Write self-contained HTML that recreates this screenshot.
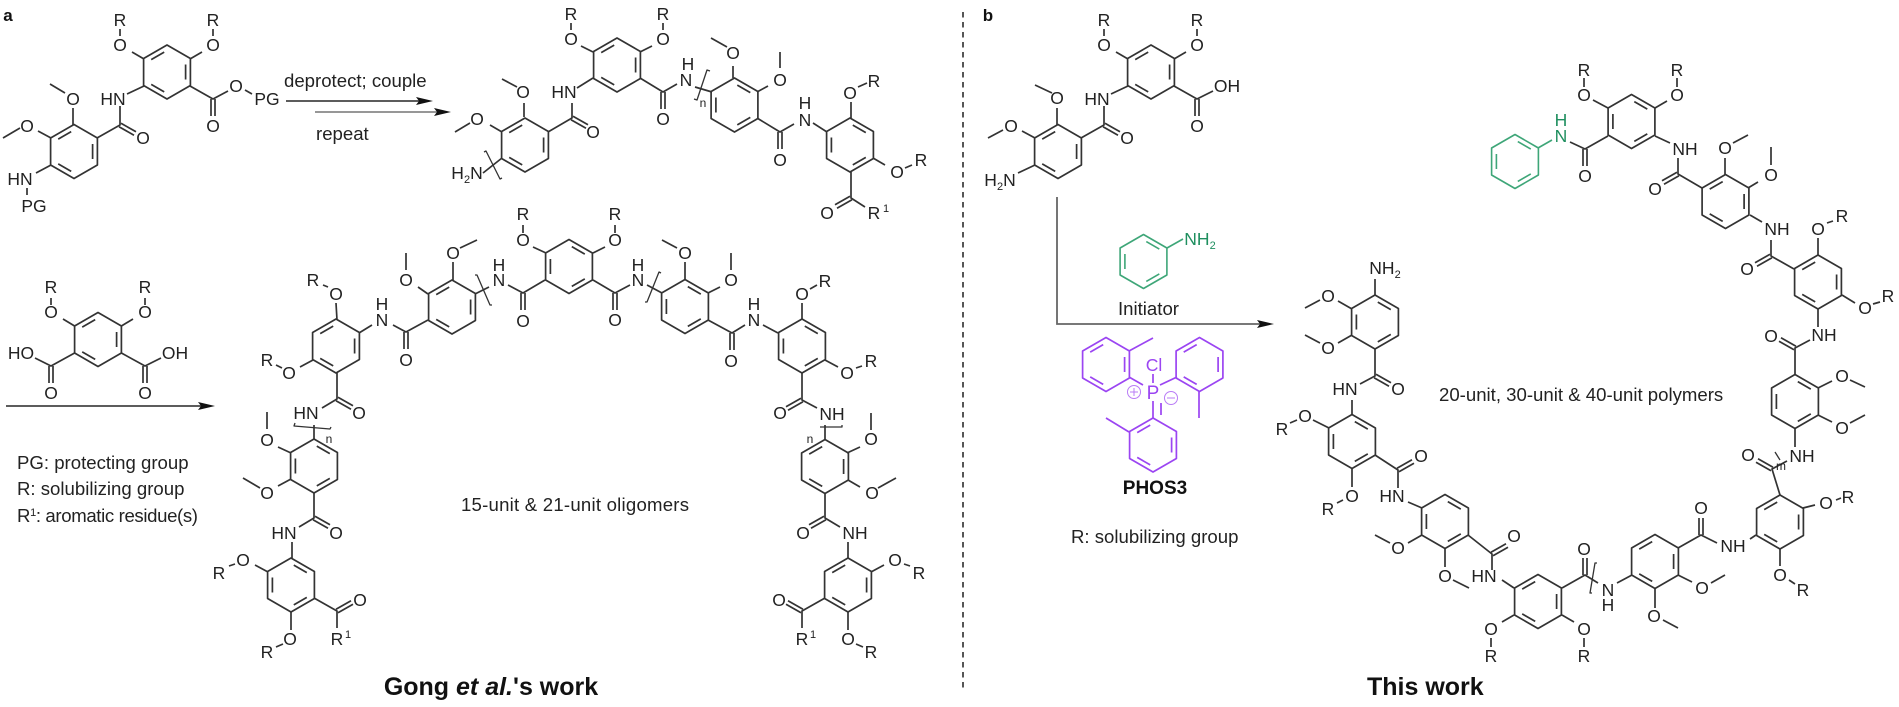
<!DOCTYPE html>
<html><head><meta charset="utf-8"><style>
html,body{margin:0;padding:0;background:#fff}
svg{display:block;filter:blur(.3px)}
text{font-family:"Liberation Sans",sans-serif;font-size:17.5px;text-anchor:middle;fill:#222}
.l{text-anchor:start;font-size:18.6px}
.s{font-size:11px}
.n{font-size:12px}
.b{font-weight:bold}
</style></head><body>
<svg xmlns="http://www.w3.org/2000/svg" width="1899" height="707" viewBox="0 0 1899 707">
<defs>
<g id="ra"><path d="M0-27L23.4-13.5V13.5L0 27L-23.4 13.5V-13.5Z"/><path d="M2.8-19.9L15.8-12.4M15.8 12.4L2.8 19.9M-18.6 7.5V-7.5"/></g>
<g id="rb"><path d="M0-27L23.4-13.5V13.5L0 27L-23.4 13.5V-13.5Z"/><path d="M18.6-7.5V7.5M-2.8 19.9L-15.8 12.4M-15.8-12.4L-2.8-19.9"/></g>
<path id="dd" d="M-2 0v17M2 0v17"/>
<path id="du" d="M-2 0v-17M2 0v-17"/>
<path id="dr" d="M-1 1.7l15 8.5M1-1.7l15 8.5"/>
<path id="dl" d="M1 1.7l-15 8.5M-1-1.7l-15 8.5"/>
<path id="ur" d="M-1-1.7l15-8.5M1 1.7l15-8.5"/>
<path id="ul" d="M1-1.7l-15-8.5M-1 1.7l-15-8.5"/>
</defs>

<!-- black structure -->
<g fill="none" stroke="#333" stroke-width="1.7" stroke-linejoin="round">
<!-- a starting material -->
<use href="#rb" x="74" y="151.5"/><use href="#rb" x="167" y="72"/>
<path d="M97 138L120 125V106M127 94L144 86M144 59L132 52M120 36V29M190 59L202 52M213 36V29M190 86L213 99L228 91M245 90L252 94M73 108V125M65 93L50 84M51 138L38 131M20 128L3 138M51 165L36 173M27 188V195"/>
<use href="#dr" x="120" y="125"/><use href="#dd" x="213" y="99"/>

<!-- a upper product -->
<use href="#rb" x="525" y="145"/><use href="#rb" x="617" y="65"/><use href="#ra" x="734.5" y="105"/><use href="#ra" x="850" y="145"/>
<path d="M548 132L572 118V103M577 88L593 78M593 52L581 46M571 30V23M640 52L652 46M663 30V23M640 78L663 92L677 84M695 87L712 92M733 66V78M711 38L727 47M757 92L768 86M780 68V52M757 118L780 132L794 124M813 123L827 132M851 118V102M858 87L867 83M873 158L885 165M905 168L912 165M851 172V198L865 207M483 173L502 158M524 103V117M502 79L517 87M502 132L490 125M455 132L470 123"/>
<use href="#dr" x="572" y="118"/><use href="#dd" x="663" y="92"/><use href="#dd" x="780" y="132"/><use href="#dl" x="851" y="198"/>
<path d="M484 152l2-1 14 28 2-1M710 71l-3-1-10 30-3-1" stroke-width="1.3"/>

<!-- a lower oligomer -->
<use href="#rb" x="336" y="346"/><use href="#rb" x="452" y="307"/><use href="#ra" x="569" y="266.5"/><use href="#ra" x="685" y="306.5"/><use href="#ra" x="802" y="346"/>
<use href="#ra" x="314" y="466"/><use href="#ra" x="291" y="585"/><use href="#rb" x="825" y="466.5"/><use href="#rb" x="848" y="585"/>
<path d="M336 303L337 320M328 287L323 285M313 360L300 367M282 368L276 365M359 333L372 325M393 325L406 332L428 320M428 294L418 287M406 253V270M453 262V280M460 248L477 240M475 294L489 287M508 285L523 293L545 280M546 253L533 247M523 225V233M593 253L605 247M615 225V233M593 280L615 293L630 285M647 285L662 293M685 262V280M662 240L677 248M708 293L720 287M731 253V270M708 320L732 333L745 325M763 325L778 333"/>
<use href="#dd" x="406" y="332"/><use href="#dd" x="523" y="293"/><use href="#dd" x="615" y="293"/><use href="#dd" x="732" y="333"/>
<path d="M802 303V320M810 289L817 285M825 360L838 367M856 368L862 366"/>
<path d="M475 275l2 0 13 30 2 0M661 273l-2-1-12 30-2 0" stroke-width="1.3"/>
<!-- left arm -->
<path d="M337 372V399L322 408M314 425V440M291 453L278 447M267 412V429M291 479L278 486M243 478L260 488M314 492V518L299 527M292 542V558M268 572L255 565M235 564L229 566M291 612V630M283 644L276 647M314 598L337 611V628"/>
<use href="#dr" x="337" y="399"/><use href="#dr" x="314" y="518"/><use href="#ur" x="337" y="611"/>
<path d="M295 423l-1 3 36 3 1-2" stroke-width="1.3"/>
<!-- right arm -->
<path d="M802 373V400L817 408M825 425V440M847 453L860 447M871 413V430M848 480L860 487M896 478L878 488M825 493V518L840 527M848 542V558M871 572L884 565M904 564L910 566M848 612V630M856 644L863 647M825 598L802 611V628"/>
<use href="#dl" x="802" y="400"/><use href="#dl" x="825" y="518"/><use href="#ul" x="802" y="611"/>
<path d="M820 427h22v-2" stroke-width="1.3"/>

<!-- diacid -->
<use href="#rb" x="98" y="339.5"/>
<path d="M74.600 326L63 319M121.400 326L133 319M51 305V298M145 305V298M121.400 353L145 366L161 358M74.600 353L51 366L35 358"/>
<use href="#dd" x="145" y="366"/><use href="#dd" x="51" y="366"/>

<!-- b starting material -->
<use href="#rb" x="1058" y="151.500"/><use href="#rb" x="1151" y="72"/>
<path d="M1081 138L1104 125V106M1111 94L1128 86M1128 59L1116 52M1104 36V29M1174 59L1186 52M1197 36V29M1174 86L1197 99L1213 91M1057 108V125M1035 85L1052 93M1035 138L1022 131M988 138L1003 130M1035 165L1018 173"/>
<use href="#dr" x="1104" y="125"/><use href="#dd" x="1197" y="99"/>

<!-- this work: upper chain -->
<use href="#ra" x="1631.500" y="121.500"/><use href="#rb" x="1725.500" y="201.500"/><use href="#rb" x="1818" y="282"/><use href="#ra" x="1795" y="401.500"/>
<path d="M1570 142L1585 149L1608 136M1608 108L1593 100M1584 78V87M1655 108L1667 101M1677 78V87M1655 136L1670 143M1678 158V174L1702 188M1725 158V175M1733 143L1748 135M1748 188L1758 182M1771 147V165M1750 215L1762 222M1771 240V256L1794 269M1818 238V256M1827 223L1833 221M1842 295L1855 303M1873 304L1880 302M1818 308V327M1810 340L1795 348V375M1818 388L1832 381M1850 380L1865 387M1818 415L1832 422M1850 423L1865 415M1795 428V447"/>
<use href="#dd" x="1585" y="149"/><use href="#dl" x="1678" y="174"/><use href="#dl" x="1771" y="256"/><use href="#ul" x="1795" y="348"/>

<!-- this work: lower chain -->
<use href="#rb" x="1780" y="522"/><use href="#rb" x="1655" y="561.500"/><use href="#rb" x="1538" y="601.500"/><use href="#ra" x="1445" y="521.500"/><use href="#ra" x="1352" y="441.500"/><use href="#ra" x="1375" y="322"/>
<path d="M1787 461L1772 469L1780 495M1803 508L1815 505M1836 500L1841 498M1780 549V566M1789 580L1795 584M1756 535L1750 539M1717 543L1701 535L1678 548M1655 588V608M1663 620L1678 628M1678 575L1692 582M1711 583L1725 575M1632 575L1617 583M1598 583L1585 575L1562 588M1562 615L1574 622M1584 638V647M1514 615L1502 622M1491 638V647M1514 588L1502 580M1492 570V554L1468 535M1445 548V567M1453 580L1469 588M1422 535L1408 543M1390 543L1375 535M1422 508L1408 502M1398 488V470L1375 455M1352 468V487M1343 500L1337 503M1329 428L1313 420M1297 420L1290 423M1352 415V400M1360 384L1375 376V349M1352 335L1338 343M1320 343L1305 335M1352 309L1338 301M1320 300L1305 308M1375 295V279"/>
<use href="#ul" x="1772" y="469"/><use href="#du" x="1701" y="535"/><use href="#du" x="1585" y="575"/><use href="#ur" x="1492" y="554"/><use href="#ur" x="1398" y="470"/><use href="#dr" x="1375" y="376"/>
<path d="M1775 452l5 8M1597 563l-2 0-5 30 2 0" stroke-width="1.3"/>
</g>

<!-- arrows -->
<g fill="none" stroke="#444" stroke-width="1.8">
<path d="M286 101H422"/>
<path d="M315 112H440" stroke="#888"/>
<path d="M6 406H205"/>
<path d="M1057 197V324H1262" stroke="#666"/>
<path d="M963 12V692" stroke="#444" stroke-dasharray="5.500 4.500"/>
</g>
<g fill="#111">
<path d="M433 101l-17-4 3 4-3 4z"/>
<path d="M451 112l-17-4 3 4-3 4z"/>
<path d="M215 406l-17-4 3 4-3 4z"/>
<path d="M1274 324l-17-4 3 4-3 4z"/>
</g>

<!-- green -->
<g fill="none" stroke="#3ea678" stroke-width="1.6" stroke-linejoin="round">
<use href="#ra" x="1143.500" y="261.500"/>
<use href="#ra" x="1515" y="161.500"/>
<path d="M1167 248L1183 239M1538 148L1552 140"/>
</g>
<g style="fill:#1f8f5f">
<text x="1200" y="245" style="fill:#1f8f5f">NH<tspan class="s" dy="4" style="fill:#1f8f5f">2</tspan></text>
<text x="1561" y="142" style="fill:#1f8f5f">N</text>
<text x="1561" y="126" style="fill:#1f8f5f">H</text>
</g>

<!-- purple -->
<g fill="none" stroke="#9b45f2" stroke-width="1.7" stroke-linejoin="round">
<use href="#rb" x="1106" y="364.500"/>
<use href="#rb" x="1199.500" y="364.500"/>
<use href="#rb" x="1153" y="445"/>
<path d="M1129 351L1153 338M1129 377L1143 385M1199 391V418M1177 377L1160 385M1153 401V418M1161 403V415M1129 432L1106 418M1153 374V383"/>
<circle cx="1134" cy="392" r="6.500" stroke-width="1" opacity=".7"/><path d="M1130 392h8M1134 388v8" stroke-width="1" opacity=".7"/>
<circle cx="1171" cy="398" r="6.500" stroke-width="1" opacity=".7"/><path d="M1167 398h8" stroke-width="1" opacity=".7"/>
</g>
<text x="1154" y="371" style="fill:#9b45f2">Cl</text>
<text x="1153" y="399" style="fill:#9b45f2;font-size:19px">P</text>

<!-- atom labels: a starting -->
<text x="8" y="21" class="b" style="font-size:17px;fill:#111">a</text>
<text x="120" y="26">R</text><text x="213" y="26">R</text>
<text x="120" y="51">O</text><text x="213" y="51">O</text>
<text x="236" y="92">O</text><text x="267" y="105">PG</text>
<text x="213" y="132">O</text><text x="143" y="144">O</text>
<text x="113" y="105">HN</text><text x="73" y="105">O</text><text x="27" y="132">O</text>
<text x="20" y="185">HN</text><text x="34" y="212">PG</text>
<text class="l" x="284" y="87">deprotect; couple</text>
<text class="l" x="316" y="140">repeat</text>

<!-- a upper product -->
<text x="571" y="20">R</text><text x="663" y="20">R</text>
<text x="571" y="45">O</text><text x="663" y="45">O</text>
<text x="564" y="98">HN</text><text x="523" y="98">O</text><text x="477" y="125">O</text>
<text x="593" y="138">O</text><text x="467" y="179">H<tspan class="s" dy="4">2</tspan><tspan dy="-4">N</tspan></text>
<text x="663" y="125">O</text><text x="688" y="70">H</text><text x="686" y="86">N</text><text class="n" x="703" y="107">n</text>
<text x="733" y="59">O</text><text x="780" y="86">O</text><text x="780" y="166">O</text>
<text x="805" y="109">H</text><text x="805" y="126">N</text>
<text x="850" y="99">O</text><text x="874" y="87">R</text><text x="897" y="178">O</text><text x="921" y="166">R</text>
<text x="827" y="219">O</text><text x="874" y="219">R</text><text class="s" x="886" y="212">1</text>

<!-- diacid labels -->
<text x="51" y="293">R</text><text x="145" y="293">R</text>
<text x="51" y="318">O</text><text x="145" y="318">O</text>
<text x="175" y="359">OH</text><text x="21" y="359">HO</text>
<text x="145" y="399">O</text><text x="51" y="399">O</text>
<text class="l" x="17" y="469">PG: protecting group</text>
<text class="l" x="17" y="495">R: solubilizing group</text>
<text class="l" x="17" y="522" textLength="181">R<tspan class="s" dy="-6">1</tspan><tspan dy="6">: aromatic residue(s)</tspan></text>

<!-- oligomer -->
<text x="313" y="286">R</text><text x="336" y="300">O</text><text x="267" y="366">R</text><text x="289" y="379">O</text>
<text x="382" y="310">H</text><text x="382" y="326">N</text><text x="406" y="366">O</text>
<text x="406" y="286">O</text><text x="453" y="259">O</text>
<text x="499" y="271">H</text><text x="499" y="286">N</text><text x="523" y="327">O</text>
<text x="523" y="220">R</text><text x="615" y="220">R</text><text x="523" y="246">O</text><text x="615" y="246">O</text>
<text x="638" y="271">H</text><text x="638" y="286">N</text><text x="615" y="326">O</text>
<text x="685" y="259">O</text><text x="731" y="286">O</text><text x="731" y="367">O</text>
<text x="754" y="310">H</text><text x="754" y="326">N</text>
<text x="802" y="300">O</text><text x="825" y="287">R</text>
<text x="847" y="379">O</text><text x="871" y="367">R</text>
<text x="780" y="419">O</text><text x="832" y="420">NH</text><text class="n" x="810" y="443">n</text>
<text x="359" y="419">O</text><text x="306" y="419">HN</text><text class="n" x="329" y="443">n</text>
<text x="267" y="446">O</text><text x="267" y="499">O</text>
<text x="871" y="445">O</text><text x="872" y="499">O</text>
<text x="336" y="539">O</text><text x="284" y="539">HN</text>
<text x="803" y="539">O</text><text x="855" y="539">NH</text>
<text x="243" y="566">O</text><text x="219" y="579">R</text>
<text x="895" y="566">O</text><text x="919" y="579">R</text>
<text x="290" y="645">O</text><text x="267" y="658">R</text>
<text x="848" y="645">O</text><text x="871" y="658">R</text>
<text x="360" y="606">O</text><text x="337" y="645">R</text><text class="s" x="348" y="638">1</text>
<text x="779" y="606">O</text><text x="802" y="645">R</text><text class="s" x="813" y="638">1</text>
<text class="l" x="461" y="511" textLength="228">15-unit &amp; 21-unit oligomers</text>
<text class="b" x="491" y="695" style="font-size:25px;fill:#111">Gong <tspan font-style="italic">et al.</tspan>'s work</text>

<!-- b labels -->
<text x="988" y="21" class="b" style="font-size:17px;fill:#111">b</text>
<text x="1104" y="26">R</text><text x="1197" y="26">R</text>
<text x="1104" y="51">O</text><text x="1197" y="51">O</text>
<text x="1227" y="92">OH</text><text x="1197" y="132">O</text><text x="1127" y="144">O</text>
<text x="1097" y="105">HN</text><text x="1057" y="104">O</text><text x="1011" y="132">O</text>
<text x="1000" y="186">H<tspan class="s" dy="4">2</tspan><tspan dy="-4">N</tspan></text>
<text class="l" x="1118" y="315">Initiator</text>
<text class="b" x="1155" y="494" style="font-size:19px;fill:#111">PHOS3</text>
<text class="l" x="1071" y="543">R: solubilizing group</text>
<text class="l" x="1439" y="401">20-unit, 30-unit &amp; 40-unit polymers</text>
<text class="b" x="1367" y="695" style="font-size:25px;text-anchor:start;fill:#111">This work</text>

<!-- this work labels -->
<text x="1584" y="76">R</text><text x="1677" y="76">R</text>
<text x="1584" y="101">O</text><text x="1677" y="101">O</text>
<text x="1585" y="182">O</text><text x="1685" y="155">NH</text><text x="1655" y="195">O</text>
<text x="1725" y="154">O</text><text x="1771" y="181">O</text>
<text x="1777" y="235">NH</text><text x="1747" y="275">O</text>
<text x="1818" y="235">O</text><text x="1842" y="222">R</text>
<text x="1865" y="314">O</text><text x="1888" y="302">R</text>
<text x="1824" y="341">NH</text><text x="1771" y="342">O</text>
<text x="1842" y="382">O</text><text x="1842" y="434">O</text>
<text x="1802" y="462">NH</text><text x="1748" y="461">O</text><text class="n" x="1781" y="470">m</text>
<text x="1826" y="509">O</text><text x="1848" y="503">R</text>
<text x="1780" y="581">O</text><text x="1803" y="596">R</text>
<text x="1733" y="552">NH</text><text x="1701" y="514">O</text>
<text x="1654" y="622">O</text><text x="1702" y="594">O</text>
<text x="1608" y="596">N</text><text x="1608" y="611">H</text><text x="1584" y="555">O</text>
<text x="1584" y="635">O</text><text x="1584" y="662">R</text>
<text x="1491" y="635">O</text><text x="1491" y="662">R</text>
<text x="1484" y="582">HN</text><text x="1514" y="542">O</text>
<text x="1398" y="554">O</text><text x="1445" y="582">O</text>
<text x="1392" y="502">HN</text><text x="1421" y="462">O</text>
<text x="1352" y="502">O</text><text x="1328" y="515">R</text>
<text x="1305" y="422">O</text><text x="1282" y="435">R</text>
<text x="1345" y="395">HN</text><text x="1398" y="395">O</text>
<text x="1328" y="354">O</text><text x="1328" y="302">O</text>
<text x="1385" y="274">NH<tspan class="s" dy="4">2</tspan></text>
</svg>
</body></html>
